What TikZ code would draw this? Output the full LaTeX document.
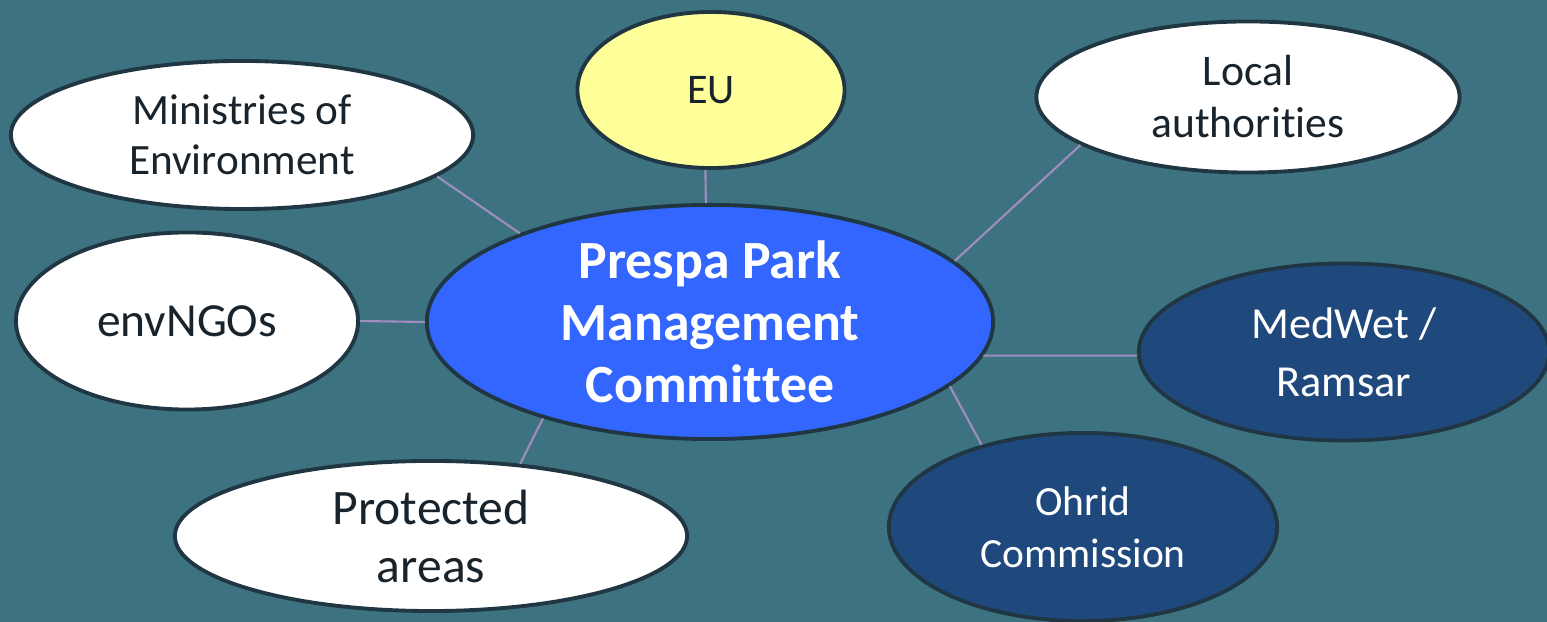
\documentclass[tikz,border=0pt]{standalone}
\usepackage{fontspec}
\setmainfont[Ligatures={NoCommon}]{Carlito}
\usetikzlibrary{shapes.geometric}
\definecolor{slate}{HTML}{3D7380}
\definecolor{rim}{HTML}{203743}
\definecolor{ink}{HTML}{18232B}
\definecolor{royal}{HTML}{3366FF}
\definecolor{navy}{HTML}{1F497D}
\definecolor{lemon}{HTML}{FFFF99}
\definecolor{lilac}{HTML}{A08CBE}

\begin{document}
\begin{tikzpicture}[x=0.01cm,y=-0.01cm,
	blob/.style={shape=ellipse,draw=rim,line width=1.1pt,inner sep=0pt,align=center},
	pale/.style={blob,fill=white,text=ink},
	deep/.style={blob,fill=navy,text=white},
	link/.style={draw=lilac,line width=0.6pt}]
	\fill[slate] (0,0) rectangle (1547,622);
	\useasboundingbox (0,0) rectangle (1547,622);
	\draw (710,322) node (ppmc) [blob,fill=royal,text=white,minimum width=5.66cm,minimum height=2.34cm,font=\bfseries\fontsize{15.3}{17.7}\selectfont] {Prespa Park\\Management\\Committee};
	\draw (711,90) node (eu) [blob,fill=lemon,text=ink,minimum width=2.67cm,minimum height=1.56cm,font=\fontsize{12}{14}\selectfont] {EU};
	\draw (242,135) node (mins) [pale,minimum width=4.62cm,minimum height=1.48cm,font=\fontsize{12.3}{14.2}\selectfont] {Ministries of\\Environment};
	\draw (1248,97) node (local) [pale,minimum width=4.23cm,minimum height=1.51cm,font=\fontsize{12.4}{14.8}\selectfont] {Local\\authorities};
	\draw (187,321) node (ngos) [pale,minimum width=3.42cm,minimum height=1.77cm,font=\fontsize{13.5}{15.5}\selectfont] {envNGOs};
	\draw (1344,352) node (medwet) [deep,minimum width=4.1cm,minimum height=1.77cm,font=\fontsize{12.6}{16.5}\selectfont] {MedWet /\\Ramsar};
	\draw (1083,527) node (ohrid) [deep,minimum width=3.88cm,minimum height=1.88cm,font=\fontsize{11.8}{14.8}\selectfont] {Ohrid\\Commission};
	\draw (431,536) node (parks) [pale,minimum width=5.12cm,minimum height=1.5cm,font=\fontsize{14.1}{16.5}\selectfont] {Protected\\areas};
	\draw[link] (mins.-12) -- (ppmc.155);
	\draw[link] (eu.-94) -- (ppmc.92);
	\draw[link] (local.-164) -- (ppmc.14);
	\draw[link] (ngos.east) -- (ppmc.west);
	\draw[link] (medwet.181) -- (ppmc.-7);
	\draw[link] (ohrid.141) -- (ppmc.-15);
	\draw[link] (parks.39) -- (ppmc.-150);
\end{tikzpicture}
\end{document}
